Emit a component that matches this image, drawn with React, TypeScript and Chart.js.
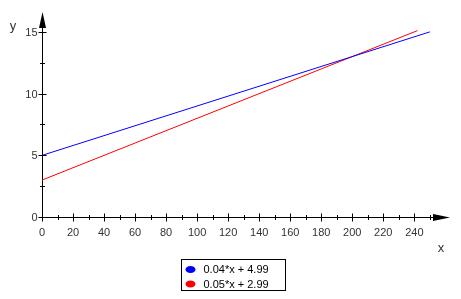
import React, { useEffect, useRef } from "react";
import { Chart, registerables } from "chart.js";

Chart.register(...registerables);

const blueX = [0, 250];
const blueY = [4.99, 14.99];
const redX = [0, 242];
const redY = [2.99, 15.09];
const seriesLabels = ["0.04*x + 4.99", "0.05*x + 2.99"];
const seriesColors = ["#0000ff", "#ff0000"];
const xMajorTicks = [0, 20, 40, 60, 80, 100, 120, 140, 160, 180, 200, 220, 240];
const xMinorTicks = [10, 30, 50, 70, 90, 110, 130, 150, 170, 190, 210, 230, 250];
const yMajorTicks = [0, 5, 10, 15];
const yMinorTicks = [2.5, 7.5, 12.5];
const xAxisTitle = "x";
const yAxisTitle = "y";

const FONT = "11px 'Liberation Sans', Arial, sans-serif";

const axesPlugin = {
  id: "axesPlugin",
  beforeDatasetsDraw(chart: any) {
    const ctx = chart.ctx;
    const xs = chart.scales.x;
    const ys = chart.scales.y;
    const x0 = Math.round(xs.getPixelForValue(0)) + 0.5;
    const y0 = Math.round(ys.getPixelForValue(0)) + 0.5;
    const xEnd = xs.right;
    const yTop = ys.top;
    ctx.save();
    ctx.strokeStyle = "#000";
    ctx.fillStyle = "#000";
    ctx.lineWidth = 1;
    // axis lines
    ctx.beginPath();
    ctx.moveTo(x0, y0);
    ctx.lineTo(xEnd - 8, y0);
    ctx.moveTo(x0, y0);
    ctx.lineTo(x0, yTop + 8);
    ctx.stroke();
    // arrows
    ctx.beginPath();
    ctx.moveTo(xEnd, y0);
    ctx.lineTo(xEnd - 17, y0 - 3.5);
    ctx.lineTo(xEnd - 17, y0 + 3.5);
    ctx.closePath();
    ctx.fill();
    ctx.beginPath();
    ctx.moveTo(x0, yTop);
    ctx.lineTo(x0 - 3.5, yTop + 16);
    ctx.lineTo(x0 + 3.5, yTop + 16);
    ctx.closePath();
    ctx.fill();
    // ticks
    ctx.beginPath();
    xMajorTicks.forEach((v) => {
      const px = Math.round(xs.getPixelForValue(v)) + 0.5;
      ctx.moveTo(px, y0 - 4);
      ctx.lineTo(px, y0 + 4);
    });
    xMinorTicks.forEach((v) => {
      const px = Math.round(xs.getPixelForValue(v)) + 0.5;
      ctx.moveTo(px, y0 - 2.5);
      ctx.lineTo(px, y0 + 2.5);
    });
    yMajorTicks.forEach((v) => {
      const py = Math.round(ys.getPixelForValue(v)) + 0.5;
      ctx.moveTo(x0 - 4, py);
      ctx.lineTo(x0 + 4, py);
    });
    yMinorTicks.forEach((v) => {
      const py = Math.round(ys.getPixelForValue(v)) + 0.5;
      ctx.moveTo(x0 - 2.5, py);
      ctx.lineTo(x0 + 2.5, py);
    });
    ctx.stroke();
    // labels
    ctx.fillStyle = "#333";
    ctx.font = FONT;
    ctx.textAlign = "center";
    ctx.textBaseline = "middle";
    xMajorTicks.forEach((v) => {
      ctx.fillText(String(v), xs.getPixelForValue(v), y0 + 15);
    });
    ctx.textAlign = "right";
    yMajorTicks.forEach((v) => {
      ctx.fillText(String(v), x0 - 5, ys.getPixelForValue(v) + 1);
    });
    // axis titles
    ctx.font = "13px 'Liberation Sans', Arial, sans-serif";
    ctx.textAlign = "center";
    ctx.fillText(xAxisTitle, xEnd - 9, y0 + 31);
    ctx.fillText(yAxisTitle, 13, yTop + 14);
    ctx.restore();
  },
  afterDraw(chart: any) {
    const ctx = chart.ctx;
    ctx.save();
    const bx = 181.5, by = 259.5, bw = 104, bh = 31;
    ctx.strokeStyle = "#000";
    ctx.lineWidth = 1;
    ctx.strokeRect(bx, by, bw, bh);
    ctx.font = FONT;
    ctx.textAlign = "left";
    ctx.textBaseline = "middle";
    seriesLabels.forEach((lab, i) => {
      const cy = by + 10 + i * 14.5;
      ctx.fillStyle = seriesColors[i];
      ctx.beginPath();
      ctx.ellipse(bx + 9, cy, 5, 3.5, 0, 0, Math.PI * 2);
      ctx.fill();
      ctx.fillStyle = "#000";
      ctx.fillText(lab, bx + 22, cy + 0.5);
    });
    ctx.restore();
  },
};

export default function App() {
  const ref = useRef<HTMLCanvasElement | null>(null);
  useEffect(() => {
    if (!ref.current) return;
    const chart = new Chart(ref.current, {
      type: "scatter",
      data: {
        datasets: [
          {
            label: seriesLabels[0],
            data: blueX.map((x, i) => ({ x, y: blueY[i] })),
            showLine: true,
            borderColor: seriesColors[0],
            backgroundColor: seriesColors[0],
            borderWidth: 1,
            pointRadius: 0,
          },
          {
            label: seriesLabels[1],
            data: redX.map((x, i) => ({ x, y: redY[i] })),
            showLine: true,
            borderColor: seriesColors[1],
            backgroundColor: seriesColors[1],
            borderWidth: 1,
            pointRadius: 0,
          },
        ],
      },
      options: {
        animation: false,
        responsive: false,
        maintainAspectRatio: false,
        layout: { padding: { left: 42, right: 11, top: 12, bottom: 82 } },
        scales: {
          x: { type: "linear", min: 0, max: 263, display: false },
          y: { type: "linear", min: 0, max: 16.6, display: false },
        },
        plugins: {
          legend: { display: false },
          tooltip: { enabled: false },
        },
      },
      plugins: [axesPlugin],
    });
    return () => chart.destroy();
  }, []);
  return (
    <div style={{ position: "fixed", left: 0, top: 0, width: 461, height: 299, background: "#fff" }}>
      <canvas ref={ref} width={461} height={299} style={{ width: 461, height: 299, display: "block" }} />
    </div>
  );
}
